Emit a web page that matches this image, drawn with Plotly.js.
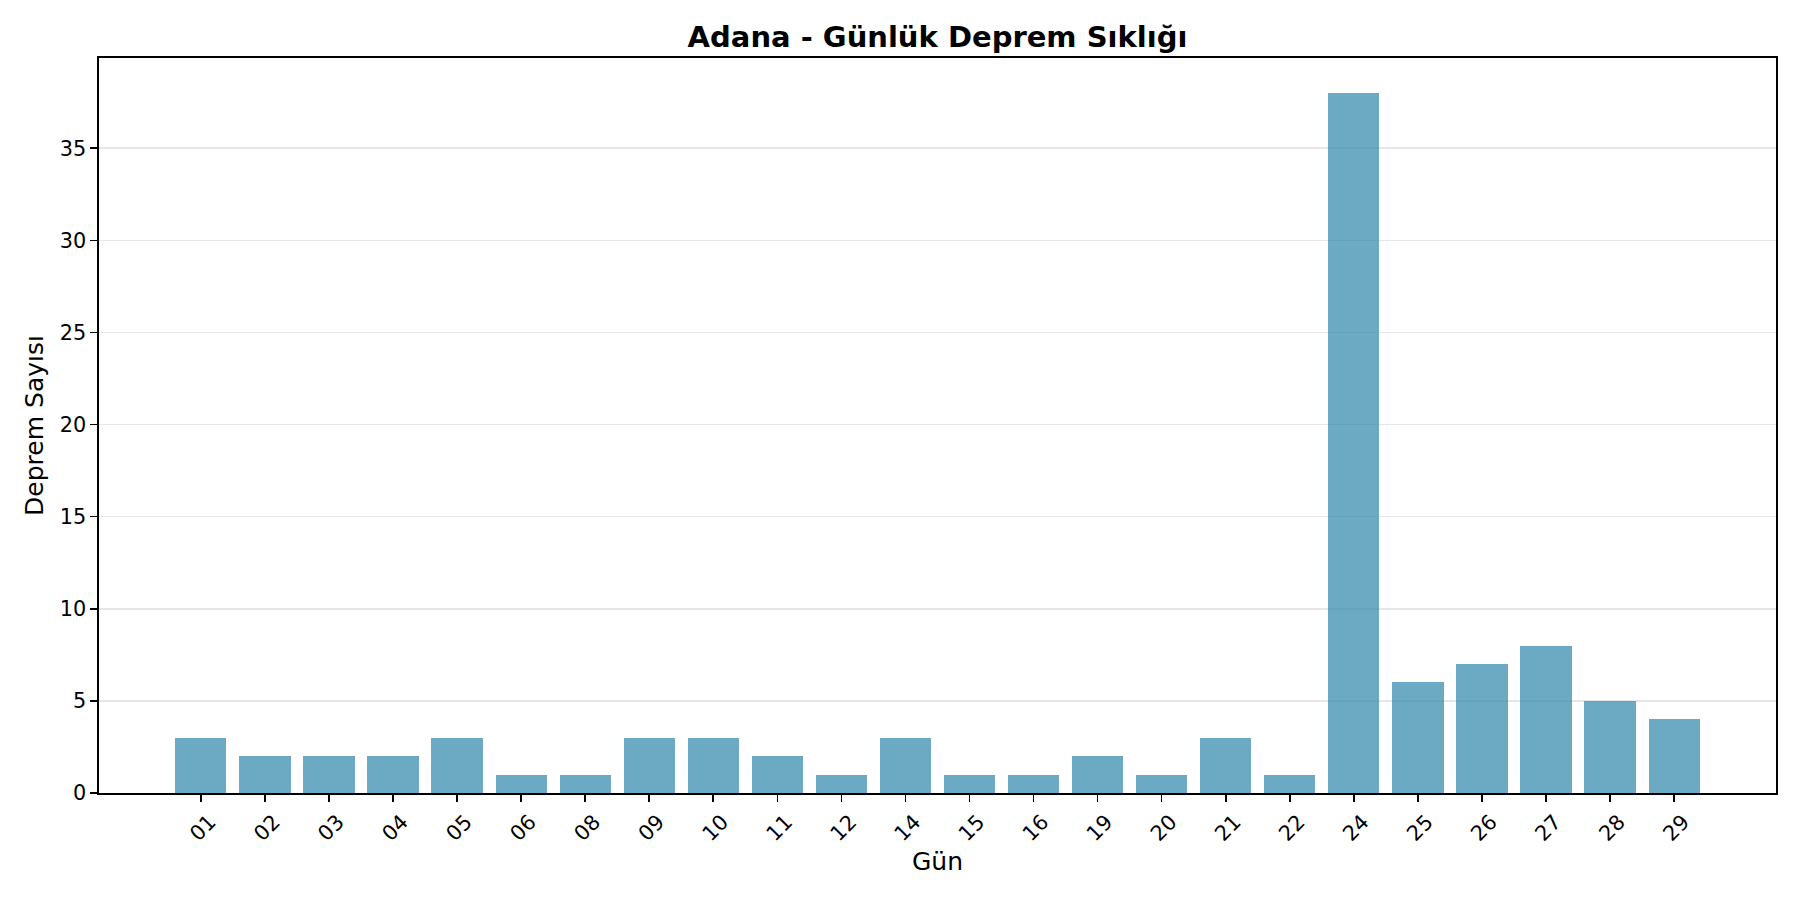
<!DOCTYPE html>
<html>
<head>
<meta charset="utf-8">
<script src="https://cdn.plot.ly/plotly-3.0.1.min.js"></script>
<style>html,body{margin:0;padding:0;background:#fff;}#chart{width:1800px;height:900px;}</style>
</head>
<body>
<div id="chart"></div>
<script>
const days = ["01","02","03","04","05","06","08","09","10","11","12","14","15","16","19","20","21","22","24","25","26","27","28","29"];
const counts = [3,2,2,2,3,1,1,3,3,2,1,3,1,1,2,1,3,1,38,6,7,8,5,4];
const yTicks = [0,5,10,15,20,25,30,35];
const titleText = "Adana - Günlük Deprem Sıklığı";
const xLabel = "Gün";
const yLabel = "Deprem Sayısı";

const font = "DejaVu Sans, sans-serif";
const trace = {
  type: "bar",
  x: days.map((d, i) => i),
  y: counts,
  width: 0.8,
  marker: {color: "rgba(46,134,171,0.7)", line: {width: 0}},
  hoverinfo: "x+y"
};
const layout = {
  width: 1800, height: 900,
  paper_bgcolor: "#ffffff", plot_bgcolor: "#ffffff",
  margin: {l: 99, r: 24, t: 58, b: 107, pad: 0},
  showlegend: false,
  font: {family: font, color: "#000"},
  title: {text: "<b>" + titleText + "</b>", font: {family: font, size: 29, color: "#000"},
          x: 0.5, xanchor: "center", xref: "paper", y: 1 - 37/900, yanchor: "middle", yref: "container"},
  xaxis: {
    range: [-1.59, 24.59],
    tickmode: "array", tickvals: days.map((d, i) => i), ticktext: days,
    tickangle: -45, ticklabelshift: 9,
    tickfont: {family: font, size: 20.8, color: "#000"},
    ticks: "outside", ticklen: 7, tickwidth: 1.6, tickcolor: "#000",
    showline: true, linecolor: "#000", linewidth: 1.6, mirror: true,
    showgrid: false, zeroline: false, automargin: false,
    title: {text: xLabel, font: {family: font, size: 25, color: "#000"}, standoff: 8}
  },
  yaxis: {
    range: [0, 39.9],
    tickmode: "array", tickvals: yTicks, ticktext: yTicks.map(String),
    tickfont: {family: font, size: 20.8, color: "#000"},
    ticks: "outside", ticklen: 7, tickwidth: 1.6, tickcolor: "#000",
    showline: true, linecolor: "#000", linewidth: 1.6, mirror: true,
    showgrid: true, gridcolor: "#e6e6e6", gridwidth: 1.6, zeroline: false, automargin: false,
    title: {text: yLabel, font: {family: font, size: 25, color: "#000"}, standoff: 9}
  },
  bargap: 0
};
Plotly.newPlot("chart", [trace], layout, {displayModeBar: false, staticPlot: true});
</script>
</body>
</html>
